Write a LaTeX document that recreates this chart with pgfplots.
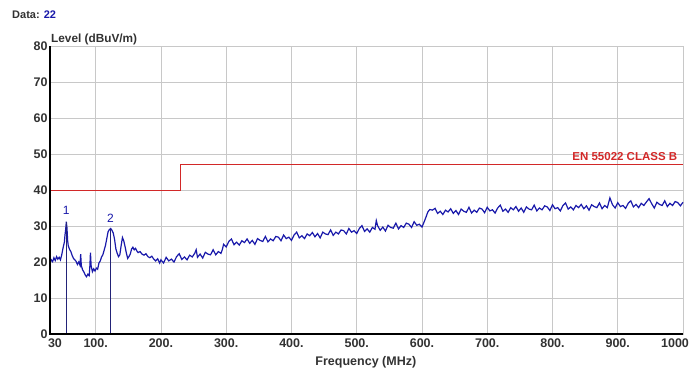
\documentclass[border=0pt]{standalone}
\usepackage{pgfplots}
\pgfplotsset{compat=1.18}
\usepackage{fontspec}
\setmainfont{Liberation Sans}
\definecolor{trace}{RGB}{25,25,170}
\definecolor{marker}{RGB}{35,35,120}
\definecolor{limit}{RGB}{210,40,40}
\definecolor{gridc}{RGB}{200,200,200}
\definecolor{lbl}{RGB}{50,50,50}

\pgfplotstableread{
f L
30 19.8
32 20.6
34 20.1
36 21.2
38 20.4
40 21.5
42 20.8
44 21.3
46 20.6
48 22.0
50 23.9
52 25.5
53 27.5
54 29.0
55 31.2
56 29.5
57 26.0
58 24.5
60 23.5
62 22.9
64 21.8
66 21.0
68 20.6
70 20.2
72 19.3
74 20.0
76 19.1
77 22.2
78 19.0
80 17.8
82 17.2
84 16.4
86 15.9
88 16.6
90 16.2
91 18.5
92 22.6
93 19.0
95 17.3
97 18.1
99 17.5
101 18.3
103 18.0
105 19.7
107 20.3
109 21.4
111 22.0
113 23.3
115 24.6
117 26.5
119 28.4
121 29.0
123 29.3
125 28.8
127 28.0
129 26.2
131 23.6
133 22.4
135 21.5
137 22.0
139 24.5
141 26.8
143 25.9
145 24.3
147 22.5
149 21.0
151 21.5
153 22.2
155 23.6
157 24.1
159 23.4
161 23.8
163 23.1
165 22.6
168 22.9
171 22.2
174 21.9
177 22.3
180 21.5
183 21.2
186 21.6
189 20.8
192 20.3
195 20.9
198 19.7
200 20.6
204 19.7
208 21.3
212 20.3
216 20.8
220 20.0
224 21.5
228 22.3
232 20.7
236 21.4
240 20.6
244 21.9
248 21.4
252 22.5
254 23.4
256 21.3
260 22.2
264 21.1
268 22.7
272 22.2
276 22.0
280 23.4
284 22.0
288 22.9
292 22.4
294 23.4
296 24.9
300 24.2
304 25.7
308 26.4
312 24.8
316 25.5
320 24.7
324 25.9
328 25.4
332 26.4
336 25.2
340 26.0
344 24.9
348 26.5
352 26.0
356 25.7
360 27.1
364 25.6
368 26.4
372 25.9
376 27.1
380 26.9
384 25.9
388 27.5
392 26.5
396 26.9
400 26.0
404 27.5
408 28.3
412 26.7
416 27.3
420 26.5
424 27.8
428 27.3
432 28.2
436 27.0
440 27.9
444 26.7
448 28.3
452 27.8
456 27.6
460 28.9
464 27.4
468 28.3
472 27.8
476 28.9
480 28.7
484 27.8
488 29.3
492 28.3
496 28.7
500 27.9
504 29.3
508 30.1
512 28.5
516 29.2
520 28.3
524 29.6
528 29.1
530 31.5
532 30.1
536 28.8
540 29.7
544 28.6
548 30.2
552 29.6
556 29.4
560 30.8
564 29.2
568 30.1
572 29.6
576 30.8
580 30.5
584 29.6
588 31.2
592 30.2
596 30.5
600 29.7
603 31.0
606 32.4
609 33.9
612 34.6
616 34.4
620 34.9
624 33.5
628 34.1
632 33.2
636 34.4
640 33.9
644 34.8
648 33.5
652 34.3
656 33.2
660 34.7
664 34.1
668 33.8
672 35.2
676 33.6
680 34.4
684 33.8
688 35.0
692 34.7
696 33.7
700 35.2
704 34.2
708 34.5
712 33.6
716 35.0
720 35.8
724 34.1
728 34.7
732 33.8
736 35.1
740 34.5
744 35.4
748 34.1
752 35.0
756 33.8
760 35.3
764 34.7
768 34.5
772 35.8
776 34.2
780 35.0
784 34.5
788 35.6
792 35.3
796 34.3
800 35.9
804 34.8
808 35.1
812 34.2
816 35.7
820 36.4
824 34.7
828 35.3
832 34.5
836 35.7
840 35.1
844 36.0
848 34.8
852 35.6
856 34.4
860 35.9
864 35.4
868 35.1
872 36.4
876 34.8
880 35.7
884 35.1
888 37.8
892 35.9
896 35.0
900 36.5
904 35.4
908 35.7
912 34.9
916 36.3
920 37.0
924 35.3
928 36.0
932 35.1
936 36.3
940 35.7
944 36.7
948 37.6
952 36.2
956 35.0
960 36.6
964 36.0
968 35.7
972 37.0
976 35.4
980 36.3
984 35.7
988 36.8
992 36.5
996 35.6
1000 36.6
}\trace

\begin{document}
\begin{tikzpicture}
\path[use as bounding box] (-50pt,-36pt) rectangle (642pt,334pt);
\begin{axis}[
  at={(0,0)}, anchor=origin,
  scale only axis,
  width=633pt, height=288pt,
  xmin=30, xmax=1000, ymin=0, ymax=80,
  xtick={30,100,200,300,400,500,600,700,800,900,1000},
  xticklabels={\hspace*{10pt}30,100.,200.,300.,400.,500.,600.,700.,800.,900.,1000\hspace*{16pt}},
  ytick={0,10,...,80},
  yticklabels={0,10,20,30,40,50,60,70,80},
  major tick length=0pt,
  grid=major,
  major grid style={gridc, line width=0.8pt},
  axis line style={gridc, line width=1pt},
  tick label style={font=\bfseries\fontsize{12.5}{14}\selectfont, text=lbl},
  xticklabel style={yshift=-1pt},
  yticklabel style={xshift=1pt},
  clip=false,
]
\addplot[limit, line width=1pt] coordinates {(30,40) (230,40) (230,47) (1000,47)};
\addplot[trace, line width=1.2pt] table[x=f, y=L] {\trace};
\addplot[marker, line width=1.5pt] coordinates {(55,0) (55,31.2)};
\addplot[marker, line width=1.5pt] coordinates {(122.5,0) (122.5,29.3)};
\draw[black, line width=1.6pt] (rel axis cs:0,1) -- (rel axis cs:0,0) -- (rel axis cs:1,0);
\node[trace, font=\fontsize{12}{14}\selectfont, anchor=south] at (axis cs:55,32.2) {1};
\node[trace, font=\fontsize{12}{14}\selectfont, anchor=south] at (axis cs:122.5,30.0) {2};
\node[limit, font=\bfseries\fontsize{11.5}{14}\selectfont, anchor=south east, inner sep=1pt] at (axis cs:993,47.8) {EN 55022 CLASS B};
\node[lbl, font=\bfseries\fontsize{11.8}{13}\selectfont, anchor=south west, inner sep=1pt] at (rel axis cs:0,1) {Level (dBuV/m)};
\node[lbl, font=\bfseries\fontsize{12.5}{14}\selectfont, anchor=base] at (axis cs:514,0) [yshift=-31pt] {Frequency (MHz)};
\end{axis}
\node[lbl, font=\bfseries\fontsize{11}{13}\selectfont, anchor=base west, inner sep=0pt] at (-38pt,315pt) {Data: \textcolor{trace}{22}};
\end{tikzpicture}
\end{document}
